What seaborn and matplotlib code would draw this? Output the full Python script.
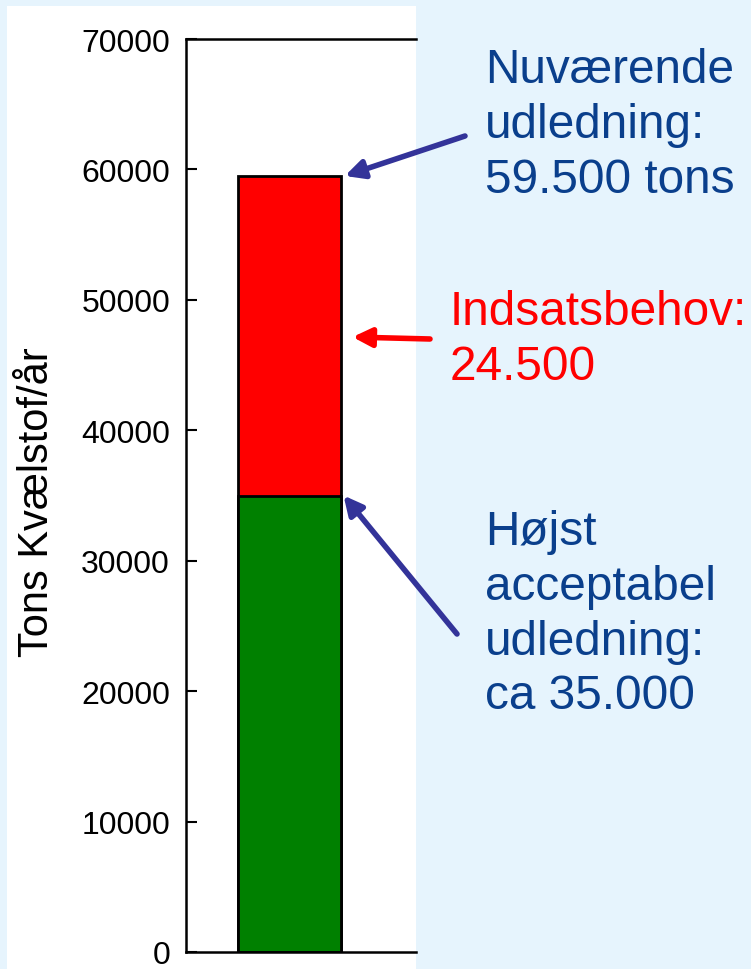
import matplotlib.pyplot as plt
import matplotlib.patches as mpatches
import pandas as pd
import seaborn as sns

# Data
categories = ['Udledning']
acceptable = [35000]
needed = [24500]
current = [a + n for a, n in zip(acceptable, needed)]
yticks = [0, 10000, 20000, 30000, 40000, 50000, 60000, 70000]

df = pd.DataFrame({'cat': categories, 'current': current, 'acceptable': acceptable})

sns.set_style('ticks')
plt.rcParams['font.family'] = ['Liberation Sans', 'DejaVu Sans']

W, H = 751, 970
fig = plt.figure(figsize=(W / 100, H / 100), dpi=100, facecolor='#E6F4FD')

# white panel behind the chart
fig.patches.append(mpatches.Rectangle((7 / W, 0), 409 / W, (H - 7) / H,
                                      transform=fig.transFigure, facecolor='white',
                                      edgecolor='none', zorder=-5))

ax = fig.add_axes([186 / W, (H - 953) / H, 230 / W, (953 - 40) / H])
ax.set_facecolor('white')

# stacked bar: red total first, green lower part on top
sns.barplot(data=df, x='cat', y='current', color='#FF0000', saturation=1,
            edgecolor='black', linewidth=2, width=0.8, ax=ax)
sns.barplot(data=df, x='cat', y='acceptable', color='#008000', saturation=1,
            edgecolor='black', linewidth=2, width=0.8, ax=ax)

ax.set_xlim(-0.804, 0.983)
ax.set_ylim(0, 70000)
ax.set_yticks(yticks)
ax.set_yticklabels([str(t) for t in yticks], fontsize=23)
ax.set_xticks([])
ax.set_xlabel('')
ax.tick_params(axis='y', direction='in', length=8, width=1.5, pad=11.5, colors='black')
for side in ['left', 'top', 'bottom']:
    ax.spines[side].set_linewidth(1.8)
    ax.spines[side].set_color('black')
ax.spines['right'].set_visible(False)

ax.set_ylabel('Tons Kvælstof/år', fontsize=30, color='black')
ax.yaxis.set_label_coords(-0.56, 0.4934)

blue = '#0A3F8C'
arrow_blue = '#333399'

def px(x, y):
    return (x, H - y)

# arrows
ax.annotate('', xy=(0.43, current[0]), xycoords='data',
            xytext=px(465, 137), textcoords='figure pixels',
            arrowprops=dict(arrowstyle='-|>', lw=4, color=arrow_blue,
                            mutation_scale=28, shrinkA=0, shrinkB=0),
            annotation_clip=False)
ax.annotate('', xy=(0.49, 47150), xycoords='data',
            xytext=px(430, 340), textcoords='figure pixels',
            arrowprops=dict(arrowstyle='-|>', lw=4, color='#FF0000',
                            mutation_scale=28, shrinkA=0, shrinkB=0),
            annotation_clip=False)
ax.annotate('', xy=(0.42, acceptable[0]), xycoords='data',
            xytext=px(457, 635), textcoords='figure pixels',
            arrowprops=dict(arrowstyle='-|>', lw=4, color=arrow_blue,
                            mutation_scale=28, shrinkA=0, shrinkB=0),
            annotation_clip=False)

# annotation texts
fig.text(485 / W, 1 - 48 / H, 'Nuværende\nudledning:\n59.500 tons',
         color=blue, fontsize=34.4, va='top', ha='left', linespacing=1.28)
fig.text(450 / W, 1 - 290 / H, 'Indsatsbehov:\n24.500',
         color='#FF0000', fontsize=34.4, va='top', ha='left', linespacing=1.28)
fig.text(485 / W, 1 - 510 / H, 'Højst\nacceptabel\nudledning:\nca 35.000',
         color=blue, fontsize=34.4, va='top', ha='left', linespacing=1.28)

fig.savefig('out.png', dpi=100, facecolor=fig.get_facecolor())
